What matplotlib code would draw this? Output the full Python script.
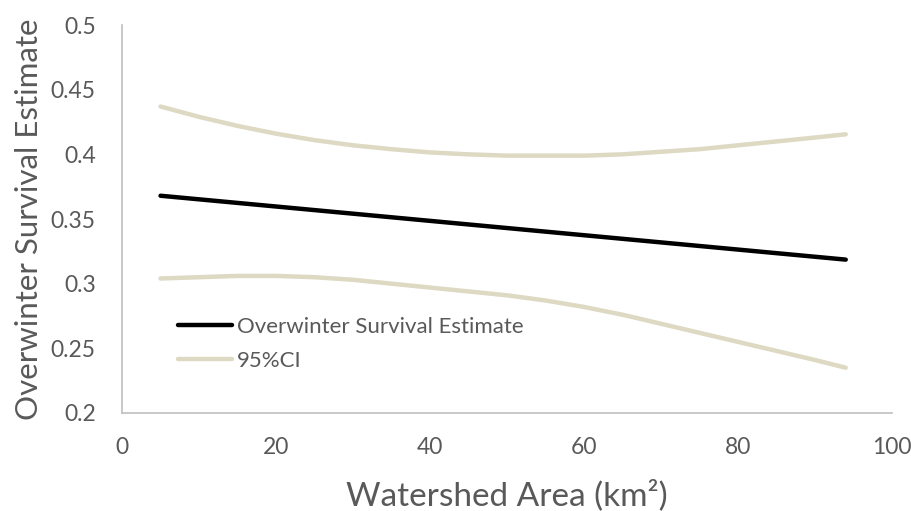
import numpy as np
from matplotlib import pyplot as plt

# watershed area (km2) and survival estimates
area = [5, 10, 15, 20, 25, 30, 35, 40, 45, 50, 55, 60, 65, 70, 75, 80, 85, 90, 94]
ci_upper = [0.437, 0.429, 0.422, 0.416, 0.411, 0.407, 0.404, 0.4015, 0.400, 0.399,
            0.399, 0.399, 0.400, 0.402, 0.404, 0.407, 0.410, 0.413, 0.4155]
ci_lower = [0.304, 0.305, 0.306, 0.306, 0.305, 0.303, 0.300, 0.297, 0.294, 0.291,
            0.287, 0.282, 0.276, 0.269, 0.262, 0.255, 0.248, 0.241, 0.235]
est_area = [5, 94]
estimate = [0.368, 0.3186]

xticks = [0, 20, 40, 60, 80, 100]
yticks = [0.2, 0.25, 0.3, 0.35, 0.4, 0.45, 0.5]

plt.rcParams['font.family'] = ['Lato', 'DejaVu Sans']
grey = '#595959'
tan = '#ddd9c3'

fig = plt.figure(figsize=(9.12, 5.11), dpi=100)
ax = fig.add_axes([0.1338, 0.1918, 0.978 - 0.1338, 0.951 - 0.1918])

ax.plot(est_area, estimate, color='black', lw=3.2, solid_capstyle='round',
        label='Overwinter Survival Estimate', zorder=3)
ax.plot(area, ci_upper, color=tan, lw=3.2, solid_capstyle='round', label='95%CI')
ax.plot(area, ci_lower, color=tan, lw=3.2, solid_capstyle='round')

ax.set_xlim(0, 100)
ax.set_ylim(0.2, 0.5)
ax.set_xticks(xticks)
ax.set_yticks(yticks)
ax.set_xticklabels([str(t) for t in xticks])
ax.set_yticklabels(['0.2', '0.25', '0.3', '0.35', '0.4', '0.45', '0.5'])
ax.tick_params(length=0, labelsize=16.5, labelcolor=grey)
ax.tick_params(axis='x', pad=17)
ax.tick_params(axis='y', pad=19)

for s in ['top', 'right']:
    ax.spines[s].set_visible(False)
for s in ['left', 'bottom']:
    ax.spines[s].set_color('#bfbfbf')
    ax.spines[s].set_linewidth(1.2)

ax.set_xlabel('Watershed Area (km²)', fontsize=24, color=grey)
ax.set_ylabel('Overwinter Survival Estimate', fontsize=22.5, color=grey)
ax.xaxis.set_label_coords(0.5, -0.172)
ax.yaxis.set_label_coords(-0.103, 0.5)

leg = ax.legend(loc='upper left', bbox_to_anchor=(178 / 912, 1 - 317 / 511),
                bbox_transform=fig.transFigure, frameon=False, fontsize=16,
                handlelength=2.45, handletextpad=0.2, labelspacing=0.62,
                borderaxespad=0, borderpad=0)
for t in leg.get_texts():
    t.set_color(grey)

fig.savefig('out.png', dpi=100)
